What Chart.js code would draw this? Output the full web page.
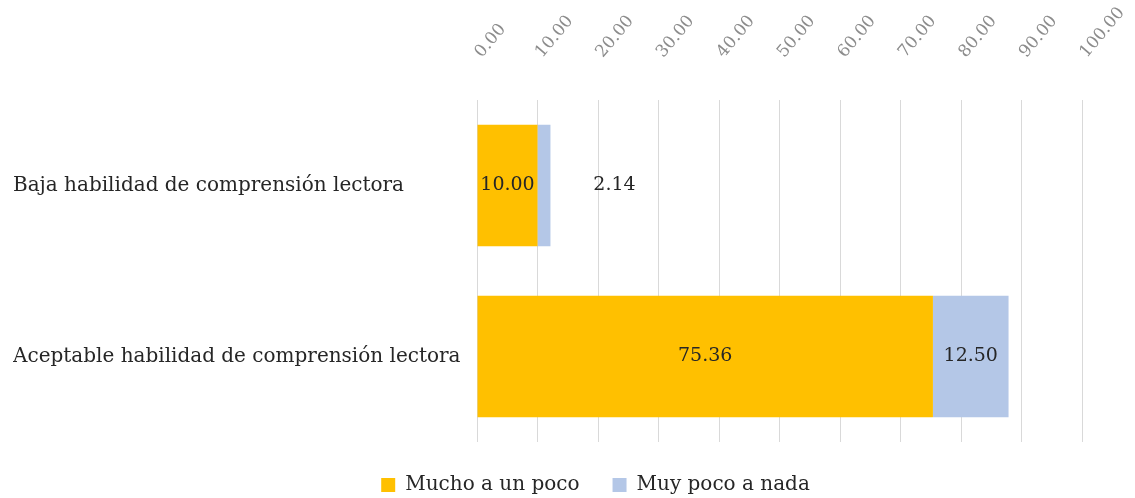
<!DOCTYPE html>
<html>
<head>
<meta charset="utf-8">
<script src="https://cdn.jsdelivr.net/npm/chart.js@4"></script>
<style>
  html, body { margin: 0; padding: 0; background: #fff; }
  #wrap { width: 1135px; height: 498px; }
</style>
</head>
<body>
<div id="wrap"><canvas id="myChart" width="1135" height="498"></canvas></div>
<script>
// categorias y valores de cada serie
const categorias = ['Baja habilidad de comprensión lectora', 'Aceptable habilidad de comprensión lectora'];
const muchoAUnPoco = [10.00, 75.36];
const muyPocoANada = [2.14, 12.50];
const ticksEje = [0, 10, 20, 30, 40, 50, 60, 70, 80, 90, 100];

const fuente = "'DejaVu Serif', serif";

// etiquetas con el valor dentro de cada barra
const etiquetasValor = {
  id: 'etiquetasValor',
  afterDatasetsDraw(chart) {
    const ctx = chart.ctx;
    ctx.save();
    ctx.font = '19px ' + fuente;
    ctx.fillStyle = '#262626';
    ctx.textAlign = 'center';
    ctx.textBaseline = 'middle';
    chart.data.datasets.forEach((ds, i) => {
      chart.getDatasetMeta(i).data.forEach((bar, j) => {
        const texto = ds.data[j].toFixed(2);
        const ancho = Math.abs(bar.x - bar.base);
        let x = (bar.x + bar.base) / 2;
        // si no cabe, se pone a la derecha
        if (ctx.measureText(texto).width > ancho) x = bar.x + 64;
        ctx.fillText(texto, x, bar.y);
      });
    });
    ctx.restore();
  }
};

// alto fijo para la leyenda y un corrimiento a la derecha
const ajusteLeyenda = {
  id: 'ajusteLeyenda',
  beforeInit(chart) {
    const fit = chart.legend.fit;
    chart.legend.fit = function () {
      fit.call(this);
      this.height = 56;
    };
  },
  afterLayout(chart) {
    chart.legend.left += 48;
    chart.legend.right += 48;
  }
};

const ctx = document.getElementById('myChart');

const myChart = new Chart(ctx, {
  type: 'bar',
  data: {
    labels: categorias,
    datasets: [{
      label: 'Mucho a un poco',
      data: muchoAUnPoco,
      backgroundColor: '#FFC000'
    }, {
      label: 'Muy poco a nada',
      data: muyPocoANada,
      backgroundColor: '#B4C7E7'
    }]
  },
  options: {
    indexAxis: 'y',
    responsive: false,
    animation: false,
    layout: { padding: { left: 13, right: 53, top: 0, bottom: 0 } },
    datasets: { bar: { barPercentage: 1, categoryPercentage: 0.71 } },
    scales: {
      x: {
        position: 'top',
        stacked: true,
        min: 0,
        max: 100,
        afterBuildTicks: (s) => { s.ticks = ticksEje.map(v => ({ value: v })); },
        afterFit: (s) => {
          s.height = 100;
          s.paddingLeft = 0;
          s.paddingRight = 0;
        },
        grid: { color: '#d9d9d9', drawTicks: false },
        border: { display: false },
        ticks: {
          minRotation: 50,
          maxRotation: 50,
          padding: 38,
          labelOffset: 17,
          color: '#8c8c8c',
          font: { family: fuente, size: 17 },
          callback: (v) => Number(v).toFixed(2)
        }
      },
      y: {
        stacked: true,
        afterFit: (s) => { s.width = 464; },
        grid: { display: false },
        border: { display: false },
        ticks: {
          crossAlign: 'far',
          color: '#262626',
          font: { family: fuente, size: 20 }
        }
      }
    },
    plugins: {
      tooltip: { enabled: false },
      legend: {
        position: 'bottom',
        labels: {
          boxWidth: 14,
          boxHeight: 14,
          padding: 33,
          color: '#262626',
          font: { family: fuente, size: 20 }
        }
      }
    }
  },
  plugins: [etiquetasValor, ajusteLeyenda]
});
</script>
</body>
</html>
